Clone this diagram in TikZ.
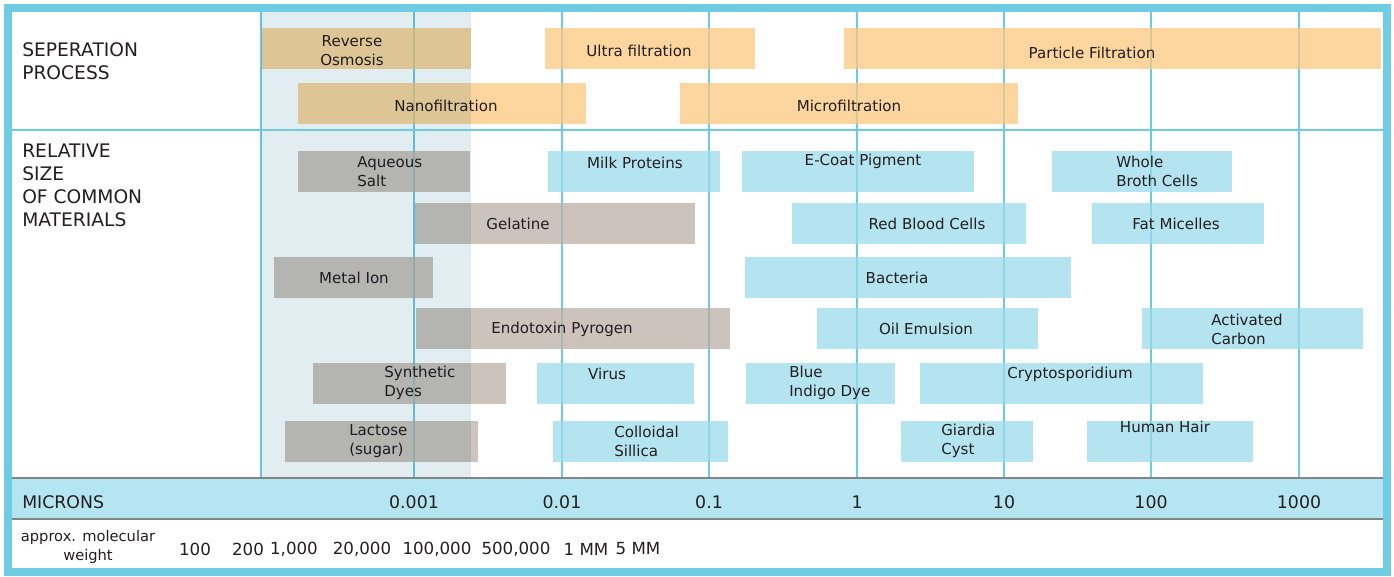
\documentclass[tikz,border=0pt]{standalone}
\usepackage{fontspec}
\setmainfont{DejaVu Sans}
\usepackage{tikz}

\definecolor{frameBlue}{RGB}{110,204,227}
\definecolor{gridBlue}{RGB}{108,203,226}
\definecolor{procOrange}{RGB}{252,200,128}
\definecolor{soluteGray}{RGB}{188,175,167}
\definecolor{particleBlue}{RGB}{156,220,235}
\definecolor{bandBlue}{RGB}{181,229,240}
\definecolor{shadeCol}{RGB}{225,237,240}
\definecolor{ruleGray}{RGB}{128,133,133}
\definecolor{inkText}{RGB}{35,31,32}

\begin{document}
\begin{tikzpicture}[x=0.75pt, y=-0.75pt,
process/.style={fill=procOrange, fill opacity=0.75},
%
solute/.style={fill=soluteGray, fill opacity=0.75},
%
particle/.style={fill=particleBlue, fill opacity=0.75},
%
barlabel/.style={font=\fontsize{11.3}{14.25}\selectfont, inner sep=0pt,
  align=center, text=inkText},
%
barlabelL/.style={barlabel, align=left, anchor=west},
%
heading/.style={font=\fontsize{14}{17.25}\selectfont, inner sep=0pt,
  align=left, anchor=west, text=inkText},
%
micron/.style={font=\fontsize{13}{15}\selectfont, inner sep=0pt, text=inkText},
%
weight/.style={font=\fontsize{12.5}{14}\selectfont, inner sep=0pt, text=inkText}]

\useasboundingbox (0,0) rectangle (1394,576);
\fill[white] (0,0) rectangle (1394,576);

\begin{scope}
  % microns band and grid
  \fill[bandBlue] (12,478) rectangle (1383,519);
  \foreach \x in {261,414,562,709,857,1004,1151,1299}
    \draw[gridBlue, line width=1.5pt] (\x,12) -- (\x,478);
\end{scope}

\begin{scope}
  %%%%%%%%%%%%%%%%%%%%%%%%%%%%%% separation process
  \fill[process] (262,28) rectangle (471,69);
  \node[barlabel] (revOsm) at (352,51) {Reverse\\Osmosis};
  \fill[process] (545,28) rectangle (755,69);
  \node[barlabel] (ultraFilt) at (639,51) {Ultra filtration};
  \fill[process] (844,28) rectangle (1381,69);
  \node[barlabel] (partFilt) at (1092,53) {Particle Filtration};
  \fill[process] (298,83) rectangle (586,124);
  \node[barlabel] (nanoFilt) at (446,106) {Nanofiltration};
  \fill[process] (680,83) rectangle (1018,124);
  \node[barlabel] (microFilt) at (849,106) {Microfiltration};
  %%%%%%%%%%%%%%%%%%%%%%%%%%%%%% first row
  \fill[solute] (298,151) rectangle (470,192);
  \node[barlabelL] (aqSalt) at (357,172) {Aqueous\\Salt};
  \fill[particle] (548,151) rectangle (720,192);
  \node[barlabel] (milkProt) at (635,163) {Milk Proteins};
  \fill[particle] (742,151) rectangle (974,192);
  \node[barlabel] (eCoat) at (863,161) {E-Coat Pigment};
  \fill[particle] (1052,151) rectangle (1232,192);
  \node[barlabelL] (wholeBroth) at (1116,171) {Whole\\Broth Cells};
  %%%%%%%%%%%%%%%%%%%%%%%%%%%%%% second row
  \fill[solute] (415,203) rectangle (695,244);
  \node[barlabel] (gelatine) at (518,224) {Gelatine};
  \fill[particle] (792,203) rectangle (1026,244);
  \node[barlabel] (redBlood) at (927,224) {Red Blood Cells};
  \fill[particle] (1092,203) rectangle (1264,244);
  \node[barlabel] (fatMic) at (1176,224) {Fat Micelles};
  %%%%%%%%%%%%%%%%%%%%%%%%%%%%%% third row
  \fill[solute] (274,257) rectangle (433,298);
  \node[barlabel] (metalIon) at (354,278) {Metal Ion};
  \fill[particle] (745,257) rectangle (1071,298);
  \node[barlabel] (bacteria) at (897,278) {Bacteria};
  %%%%%%%%%%%%%%%%%%%%%%%%%%%%%% fourth row
  \fill[solute] (416,308) rectangle (730,349);
  \node[barlabel] (endotoxin) at (562,329) {Endotoxin Pyrogen};
  \fill[particle] (817,308) rectangle (1038,349);
  \node[barlabel] (oilEm) at (926,329) {Oil Emulsion};
  \fill[particle] (1142,308) rectangle (1363,349);
  \node[barlabelL] (actCarbon) at (1211,329) {Activated\\Carbon};
  %%%%%%%%%%%%%%%%%%%%%%%%%%%%%% fifth row
  \fill[solute] (313,363) rectangle (506,404);
  \node[barlabelL] (synDyes) at (384,383) {Synthetic\\Dyes};
  \fill[particle] (537,363) rectangle (694,404);
  \node[barlabel] (virus) at (607,374) {Virus};
  \fill[particle] (746,363) rectangle (895,404);
  \node[barlabelL] (blueIndigo) at (789,383) {Blue\\Indigo Dye};
  \fill[particle] (920,363) rectangle (1203,404);
  \node[barlabel] (crypto) at (1070,374) {Cryptosporidium};
  %%%%%%%%%%%%%%%%%%%%%%%%%%%%%% sixth row
  \fill[solute] (285,421) rectangle (478,462);
  \node[barlabelL] (lactose) at (349,441) {Lactose\\(sugar)};
  \fill[particle] (553,421) rectangle (728,462);
  \node[barlabelL] (colloidal) at (614,441) {Colloidal\\Sillica};
  \fill[particle] (901,421) rectangle (1033,462);
  \node[barlabelL] (giardia) at (941,441) {Giardia\\Cyst};
  \fill[particle] (1087,421) rectangle (1253,462);
  \node[barlabel] (humanHair) at (1165,427) {Human Hair};
\end{scope}

% shaded column
\begin{scope}[blend mode=multiply]
  \fill[shadeCol] (261,12) rectangle (471,478);
\end{scope}

\begin{scope}
  \draw[gridBlue, line width=1.5pt] (12,130) -- (1383,130);
  \draw[ruleGray, line width=1pt] (12,478) -- (1383,478);
  \draw[ruleGray, line width=1pt] (12,519) -- (1383,519);
  \draw[frameBlue, line width=6pt] (8,8) rectangle (1387,572);
\end{scope}

\begin{scope}
  \node[heading] (sepHead) at (22,61) {SEPERATION\\PROCESS};
  \node[heading] (sizeHead) at (22,185) {RELATIVE\\SIZE\\OF COMMON\\MATERIALS};
  \node[heading, font=\fontsize{13}{15}\selectfont] (micronHead) at (22,502) {MICRONS};
  \node[barlabel, font=\fontsize{11}{14.25}\selectfont] (weightHead) at (88,547)
    {approx. molecular\\weight};
  \foreach \x/\v [count=\i] in {414/0.001, 562/0.01, 709/0.1, 857/1, 1004/10,
    1151/100, 1299/1000}
    \node[micron] (tick\i) at (\x,502) {\v};
  \foreach \x/\w [count=\i] in {195/100, 248/200, 294/{1,000}, 362/{20,000},
    437/{100,000}, 516/{500,000}, 586/1 MM, 638/5 MM}
    \node[weight] (mw\i) at (\x,549) {\w};
\end{scope}

\end{tikzpicture}
\end{document}
